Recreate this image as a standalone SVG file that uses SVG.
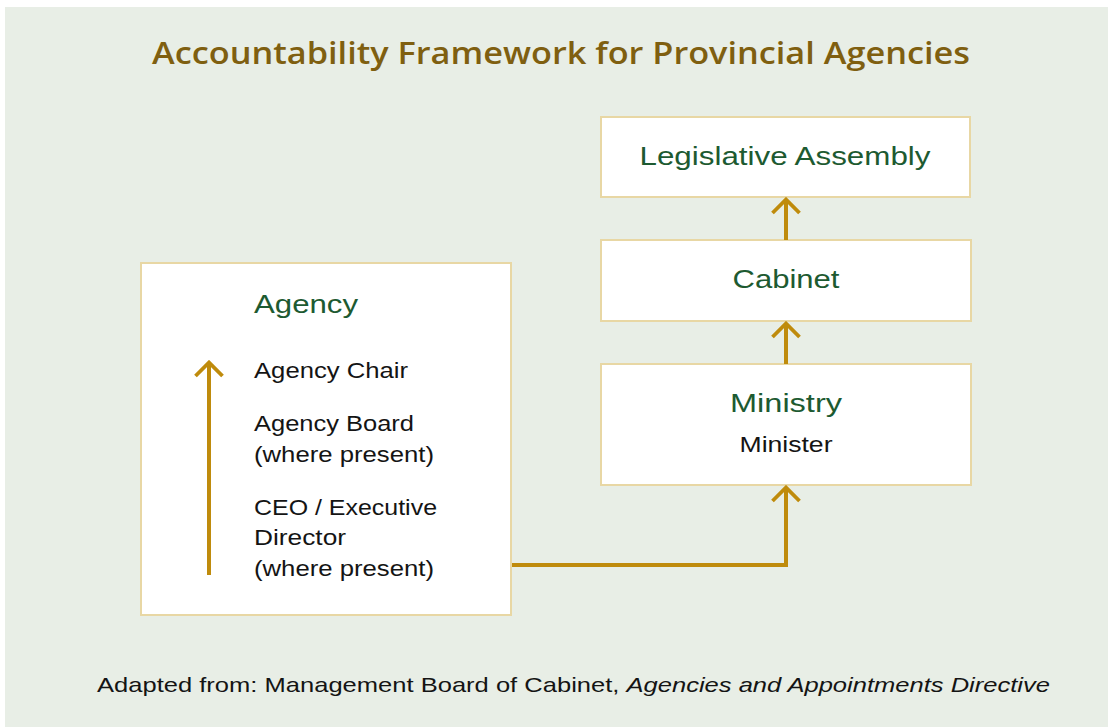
<svg xmlns="http://www.w3.org/2000/svg" width="1108" height="727" viewBox="0 0 1108 727">
  <defs>
    <style>
      .panel { fill: #e8eee6; }
      .box { fill: #ffffff; stroke: #e8d7a4; stroke-width: 2; }
      .title { font-family: "Open Sans", "Liberation Sans", Arial, sans-serif; font-weight: 600; font-size: 30px; fill: #7f5f10; }
      .head { font-family: "Liberation Sans", Arial, sans-serif; font-size: 26px; fill: #1d5a31; }
      .item { font-family: "Liberation Sans", Arial, sans-serif; font-size: 22px; fill: #141414; }
      .note { font-family: "Liberation Sans", Arial, sans-serif; font-size: 21px; fill: #141414; }
      .link { fill: none; stroke: #bf8b0c; stroke-width: 4; stroke-linecap: butt; stroke-linejoin: miter; }
    </style>
    <!-- open chevron head; points along the path direction -->
    <marker id="chev" viewBox="0 0 18 30" refX="16" refY="15" markerWidth="18" markerHeight="30" markerUnits="userSpaceOnUse" orient="auto">
      <path d="M2,1.5 L15.5,15 L2,28.5" fill="none" stroke="#bf8b0c" stroke-width="3.8"/>
    </marker>
  </defs>

  <rect class="panel" x="5" y="7" width="1103" height="720"/>

  <text class="title" x="561" y="64" text-anchor="middle" textLength="818" lengthAdjust="spacingAndGlyphs">Accountability Framework for Provincial Agencies</text>

  <g id="legislative-assembly">
    <rect class="box" x="601" y="117" width="369" height="80"/>
    <text class="head" x="785" y="165" text-anchor="middle" textLength="291" lengthAdjust="spacingAndGlyphs">Legislative Assembly</text>
  </g>

  <g id="cabinet">
    <rect class="box" x="601" y="240" width="370" height="81"/>
    <text class="head" x="786" y="288" text-anchor="middle" textLength="107" lengthAdjust="spacingAndGlyphs">Cabinet</text>
  </g>

  <g id="ministry">
    <rect class="box" x="601" y="364" width="370" height="121"/>
    <text class="head" x="786" y="412" text-anchor="middle" textLength="112" lengthAdjust="spacingAndGlyphs">Ministry</text>
    <text class="item" x="786" y="452" text-anchor="middle" textLength="93" lengthAdjust="spacingAndGlyphs">Minister</text>
  </g>

  <g id="agency">
    <rect class="box" x="141" y="263" width="370" height="352"/>
    <text class="head" x="254" y="313" textLength="104" lengthAdjust="spacingAndGlyphs">Agency</text>
    <text class="item" x="254" y="378" textLength="154" lengthAdjust="spacingAndGlyphs">Agency Chair</text>
    <text class="item" x="254" y="431" textLength="160" lengthAdjust="spacingAndGlyphs">Agency Board</text>
    <text class="item" x="254" y="462" textLength="180" lengthAdjust="spacingAndGlyphs">(where present)</text>
    <text class="item" x="254" y="515" textLength="183" lengthAdjust="spacingAndGlyphs">CEO / Executive</text>
    <text class="item" x="254" y="545" textLength="92" lengthAdjust="spacingAndGlyphs">Director</text>
    <text class="item" x="254" y="576" textLength="180" lengthAdjust="spacingAndGlyphs">(where present)</text>
    <path class="link" d="M209,575 L209,362" marker-end="url(#chev)"/>
  </g>

  <g id="connectors">
    <path class="link" d="M786,240 L786,199" marker-end="url(#chev)"/>
    <path class="link" d="M786,364 L786,323" marker-end="url(#chev)"/>
    <path class="link" d="M512,565 L786,565 L786,487" marker-end="url(#chev)"/>
  </g>

  <text class="note" x="97" y="692" textLength="953" lengthAdjust="spacingAndGlyphs">Adapted from: Management Board of Cabinet, <tspan font-style="italic">Agencies and Appointments Directive</tspan></text>
</svg>
